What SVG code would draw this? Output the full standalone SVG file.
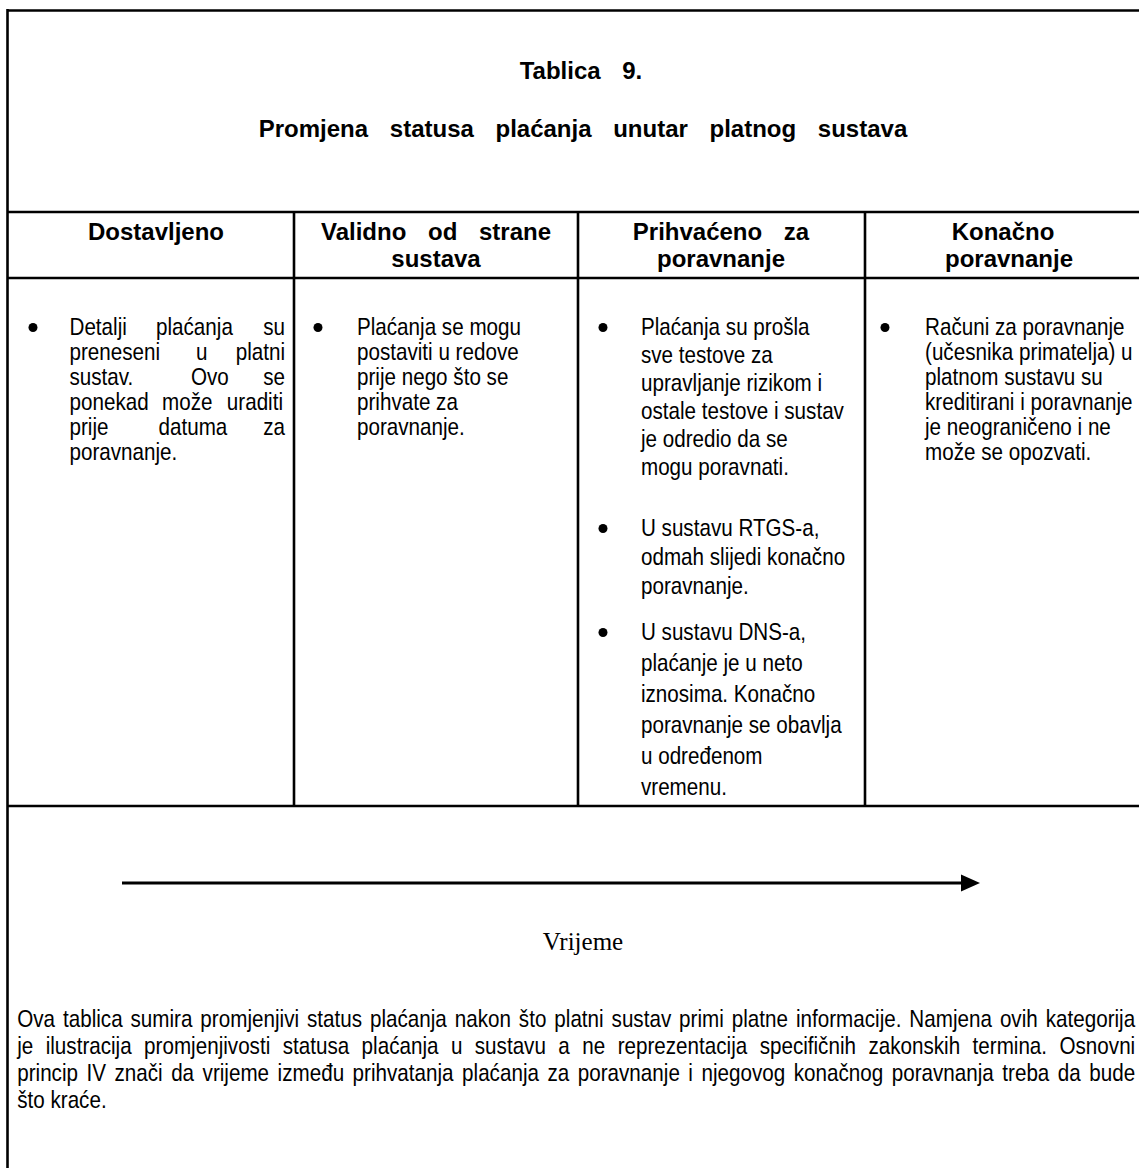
<svg xmlns="http://www.w3.org/2000/svg" width="1139" height="1168" viewBox="0 0 1139 1168">
<style>
.ln{stroke:#000;stroke-width:2.6;fill:none}
.h{font-family:'Liberation Sans',Arial,sans-serif;font-weight:bold;font-size:24px;fill:#000;text-anchor:middle;word-spacing:15px}
.t{font-family:'Liberation Sans',Arial,sans-serif;font-size:24px;fill:#000}
.e{text-anchor:end}
.s{font-family:'Liberation Serif','Times New Roman',serif;font-size:25px;fill:#000;text-anchor:middle}
.dot{fill:#000}
</style>
<rect width="1139" height="1168" fill="#fff"/>
<g id="frame">
<line class="ln" x1="7" y1="10.5" x2="1139" y2="10.5" stroke-width="3"/>
<line class="ln" x1="7.5" y1="9" x2="7.5" y2="1168" stroke-width="3"/>
<line class="ln" x1="7" y1="212" x2="1139" y2="212"/>
<line class="ln" x1="7" y1="278" x2="1139" y2="278"/>
<line class="ln" x1="7" y1="806" x2="1139" y2="806"/>
<line class="ln" x1="294" y1="212" x2="294" y2="806"/>
<line class="ln" x1="578" y1="212" x2="578" y2="806"/>
<line class="ln" x1="865" y1="212" x2="865" y2="806"/>
</g>
<g id="title">
<text class="h" x="581" y="79">Tablica 9.</text>
<text class="h" x="583" y="137">Promjena statusa plaćanja unutar platnog sustava</text>
</g>
<g id="col1">
<text class="h" x="156" y="240">Dostavljeno</text>
<circle class="dot" cx="33" cy="327.5" r="4.5"/>
<g transform="scale(0.86 1)">
<text class="t" y="335"><tspan x="80.8">Detalji</tspan><tspan x="181.4">plaćanja</tspan></text>
<text class="t e" x="331.4" y="335">su</text>
<text class="t" y="360"><tspan x="80.8">preneseni</tspan><tspan x="227.9">u</tspan></text>
<text class="t e" x="331.4" y="360">platni</text>
<text class="t" y="385"><tspan x="80.8">sustav.</tspan><tspan x="222.1">Ovo</tspan></text>
<text class="t e" x="331.4" y="385">se</text>
<text class="t" y="410"><tspan x="80.8">ponekad</tspan><tspan x="188.4">može</tspan></text>
<text class="t e" x="329.1" y="410">uraditi</text>
<text class="t" y="435"><tspan x="80.8">prije</tspan><tspan x="184.3">datuma</tspan></text>
<text class="t e" x="331.4" y="435">za</text>
<text class="t" x="80.8" y="460">poravnanje.</text>
</g>
</g>
<g id="col2">
<text class="h" x="436" y="240">Validno od strane</text>
<text class="h" x="436" y="267">sustava</text>
<circle class="dot" cx="318" cy="327.5" r="4.5"/>
<g transform="scale(0.86 1)">
<text class="t" x="415.1" y="335">Plaćanja se mogu</text>
<text class="t" x="415.1" y="360">postaviti u redove</text>
<text class="t" x="415.1" y="385">prije nego što se</text>
<text class="t" x="415.1" y="410">prihvate za</text>
<text class="t" x="415.1" y="435">poravnanje.</text>
</g>
</g>
<g id="col3">
<text class="h" x="721" y="240">Prihvaćeno za</text>
<text class="h" x="721" y="267">poravnanje</text>
<circle class="dot" cx="603" cy="327.5" r="4.5"/>
<circle class="dot" cx="603" cy="528.5" r="4.5"/>
<circle class="dot" cx="603" cy="632.5" r="4.5"/>
<g transform="scale(0.86 1)">
<text class="t" x="745.3" y="335">Plaćanja su prošla</text>
<text class="t" x="745.3" y="363">sve testove za</text>
<text class="t" x="745.3" y="391">upravljanje rizikom i</text>
<text class="t" x="745.3" y="419">ostale testove i sustav</text>
<text class="t" x="745.3" y="447">je odredio da se</text>
<text class="t" x="745.3" y="475">mogu poravnati.</text>
<text class="t" x="745.3" y="536">U sustavu RTGS-a,</text>
<text class="t" x="745.3" y="565">odmah slijedi konačno</text>
<text class="t" x="745.3" y="594">poravnanje.</text>
<text class="t" x="745.3" y="640">U sustavu DNS-a,</text>
<text class="t" x="745.3" y="671">plaćanje je u neto</text>
<text class="t" x="745.3" y="702">iznosima. Konačno</text>
<text class="t" x="745.3" y="733">poravnanje se obavlja</text>
<text class="t" x="745.3" y="764">u određenom</text>
<text class="t" x="745.3" y="795">vremenu.</text>
</g>
</g>
<g id="col4">
<text class="h" x="1003" y="240">Konačno</text>
<text class="h" x="1009" y="267">poravnanje</text>
<circle class="dot" cx="885" cy="327.5" r="4.5"/>
<g transform="scale(0.86 1)">
<text class="t" x="1075.6" y="335">Računi za poravnanje</text>
<text class="t" x="1075.6" y="360">(učesnika primatelja) u</text>
<text class="t" x="1075.6" y="385">platnom sustavu su</text>
<text class="t" x="1075.6" y="410">kreditirani i poravnanje</text>
<text class="t" x="1075.6" y="435">je neograničeno i ne</text>
<text class="t" x="1075.6" y="460">može se opozvati.</text>
</g>
</g>
<g id="connectors">
<line x1="122" y1="883" x2="964" y2="883" stroke="#000" stroke-width="3"/>
<polygon points="961,874.5 980,883 961,891.5" fill="#000"/>
</g>
<g id="time-label">
<text class="s" x="583" y="950">Vrijeme</text>
</g>
<g id="note" transform="scale(0.86 1)">
<text class="t" x="20" y="1027" word-spacing="2.5" textLength="1300" lengthAdjust="spacing">Ova tablica sumira promjenjivi status plaćanja nakon što platni sustav primi platne informacije. Namjena ovih kategorija</text>
<text class="t" x="20" y="1054" word-spacing="7.8" textLength="1300" lengthAdjust="spacing">je ilustracija promjenjivosti statusa plaćanja u sustavu a ne reprezentacija specifičnih zakonskih termina. Osnovni</text>
<text class="t" x="20" y="1081" word-spacing="3.2" textLength="1300" lengthAdjust="spacing">princip IV znači da vrijeme između prihvatanja plaćanja za poravnanje i njegovog konačnog poravnanja treba da bude</text>
<text class="t" x="20" y="1108">što kraće.</text>
</g>
</svg>
